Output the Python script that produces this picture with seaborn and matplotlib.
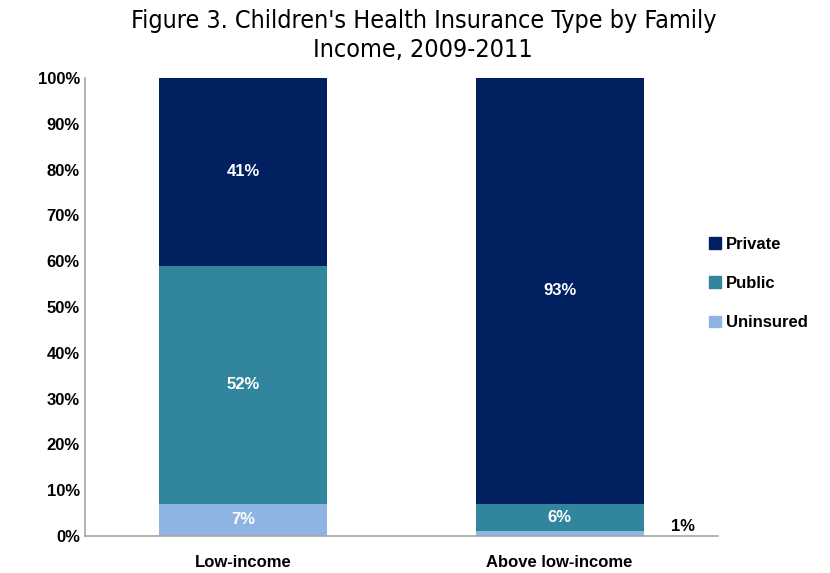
import matplotlib
matplotlib.use("Agg")
import matplotlib.pyplot as plt
import seaborn as sns
import pandas as pd
import numpy as np
from matplotlib.patches import Patch
from matplotlib.ticker import PercentFormatter

categories = ["Low-income", "Above low-income"]
series = ["Uninsured", "Public", "Private"]
uninsured = [7, 1]
public = [52, 6]
private = [41, 93]
colors = {"Private": "#002060", "Public": "#31859C", "Uninsured": "#8EB4E3"}

sns.set_theme(style="white")
plt.rcParams["font.family"] = ["Liberation Sans", "DejaVu Sans"]
plt.rcParams["text.color"] = "black"
plt.rcParams["xtick.color"] = "black"
plt.rcParams["ytick.color"] = "black"

fig = plt.figure(figsize=(8.3, 5.73), dpi=100)
ax = fig.add_axes([0.102, 0.0646, 0.763, 0.7994])

values = {"Uninsured": uninsured, "Public": public, "Private": private}
bottom = np.zeros(len(categories))
for name in series:
    df = pd.DataFrame({"cat": categories, "val": values[name]})
    sns.barplot(data=df, x="cat", y="val", color=colors[name], bottom=bottom,
                width=0.53, ax=ax, saturation=1, edgecolor="none", linewidth=0)
    for i, v in enumerate(values[name]):
        if v >= 5:
            ax.text(i, bottom[i] + v / 2, f"{v}%", ha="center", va="center",
                    color="white", fontsize=12, fontweight="bold")
        else:
            ax.text(i + 0.39, bottom[i] + v / 2 + 1.5, f"{v}%", ha="center",
                    va="center", color="black", fontsize=12, fontweight="bold")
    bottom = bottom + np.array(values[name])

ax.set_ylim(0, 100)
ax.set_xlim(-0.5, 1.5)
ax.set_yticks(np.arange(0, 101, 10))
ax.yaxis.set_major_formatter(PercentFormatter(decimals=0))
ax.set_xlabel("")
ax.set_ylabel("")
ax.tick_params(axis="both", labelsize=12, length=0)
ax.tick_params(axis="x", pad=14)
for lbl in ax.get_yticklabels() + ax.get_xticklabels():
    lbl.set_fontweight("bold")
for s in ["top", "right"]:
    ax.spines[s].set_visible(False)
for s in ["left", "bottom"]:
    ax.spines[s].set_color("#A6A6A6")
    ax.spines[s].set_linewidth(1.2)

handles = [Patch(color=colors[n], label=n) for n in ["Private", "Public", "Uninsured"]]
leg = fig.legend(handles=handles, loc="center left", bbox_to_anchor=(0.836, 0.505),
                 frameon=False, prop={"size": 12, "weight": "bold"},
                 handlelength=0.7, handleheight=0.7,
                 handletextpad=0.3, labelspacing=1.45)

fig.suptitle("Figure 3. Children's Health Insurance Type by Family\nIncome, 2009-2011",
             x=0.51, y=0.985, fontsize=18, fontfamily="DejaVu Sans",
             fontstretch="condensed", color="black", linespacing=1.3)

fig.savefig("out.png", dpi=100)
